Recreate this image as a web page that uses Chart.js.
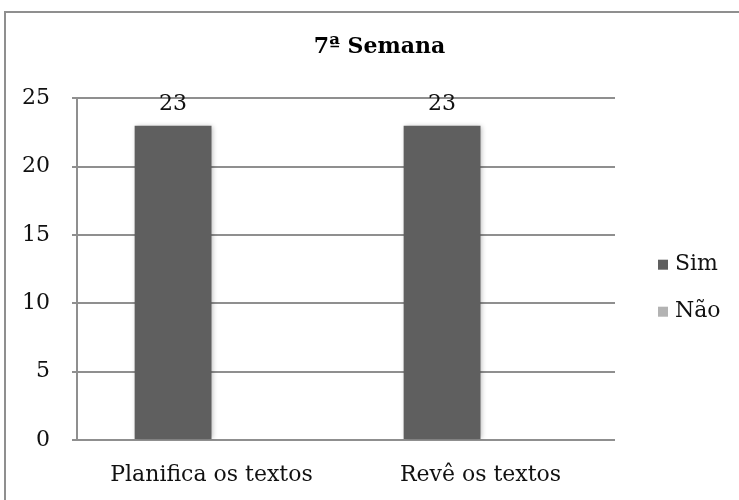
<!DOCTYPE html>
<html lang="pt">
<head>
<meta charset="utf-8">
<title>7ª Semana</title>
<script src="https://cdn.jsdelivr.net/npm/chart.js@4.4.1/dist/chart.umd.min.js"></script>
<style>
  html, body { margin: 0; padding: 0; background: #fff; overflow: hidden; }
  #frame {
    position: absolute; left: 4px; top: 11px; width: 780px; height: 540px;
    border: 2px solid #8f8f8f; box-sizing: border-box;
  }
  #wrap { position: absolute; left: 0; top: 0; width: 739px; height: 500px; }
</style>
</head>
<body>
<div id="frame"></div>
<div id="wrap"><canvas id="semanaChart"></canvas></div>
<script>
// chart data
const categories = ['Planifica os textos', 'Revê os textos'];
const simValues = [23, 23];
const naoValues = [0, 0];
const seriesNames = ['Sim', 'Não'];
const yMax = 25;
const yStep = 5;

const GRID = '#8f8f8f';
const SIM_COLOR = '#5f5f5f';
const NAO_COLOR = '#b3b3b3';
const FONT = "'DejaVu Serif', serif";

Chart.defaults.font.family = FONT;
Chart.defaults.font.size = 22;
Chart.defaults.color = '#111';

/* ---------- soft shadow behind the bars ---------- */
const barShadow = {
  id: 'barShadow',
  beforeDatasetsDraw(chart) {
    const ctx = chart.ctx;
    ctx.save();
    ctx.shadowColor = 'rgba(0,0,0,0.28)';
    ctx.shadowBlur = 5;
    ctx.shadowOffsetX = 1;
    ctx.shadowOffsetY = 0;
  },
  afterDatasetsDraw(chart) {
    chart.ctx.restore();
  },
};

/* ---------- value labels above the "Sim" bars ---------- */
const valueLabels = {
  id: 'valueLabels',
  afterDatasetsDraw(chart) {
    const ctx = chart.ctx;
    const meta = chart.getDatasetMeta(0);
    ctx.save();
    ctx.font = '22px ' + FONT;
    ctx.fillStyle = '#111';
    ctx.textAlign = 'center';
    ctx.textBaseline = 'alphabetic';
    meta.data.forEach((bar, i) => {
      ctx.fillText(String(chart.data.datasets[0].data[i]), bar.x, bar.y - 16);
    });
    ctx.restore();
  },
};

/* ---------- legend on the right, square markers ---------- */
const sideLegend = {
  id: 'sideLegend',
  afterDraw(chart) {
    const { ctx, chartArea } = chart;
    const mid = (chartArea.top + chartArea.bottom) / 2 + 19;
    const rowGap = 47;
    const x = chartArea.right + 43;
    const sets = chart.data.datasets;
    ctx.save();
    ctx.font = '22px ' + FONT;
    ctx.textBaseline = 'middle';
    ctx.textAlign = 'left';
    sets.forEach((ds, i) => {
      const y = mid + (i - (sets.length - 1) / 2) * rowGap;
      ctx.fillStyle = ds.backgroundColor;
      ctx.fillRect(x, y - 5, 10, 10);
      ctx.fillStyle = '#111';
      ctx.fillText(ds.label, x + 17, y);
    });
    ctx.restore();
  },
};

new Chart(document.getElementById('semanaChart').getContext('2d'), {
  type: 'bar',
  data: {
    labels: categories,
    datasets: [
      { label: seriesNames[0], data: simValues, backgroundColor: SIM_COLOR },
      { label: seriesNames[1], data: naoValues, backgroundColor: NAO_COLOR },
    ],
  },
  options: {
    responsive: true, maintainAspectRatio: false, animation: false,
    categoryPercentage: 2 / 3.5, barPercentage: 1,
    layout: { padding: { top: 24, left: 20, right: 0, bottom: 0 } },
    plugins: {
      legend: { display: false },
      tooltip: { enabled: false },
      title: {
        display: true, text: '7ª Semana', color: '#000',
        font: { size: 22, weight: 'bold' },
        padding: { top: 10, bottom: 38 },
      },
    },
    scales: {
      x: {
        grid: { display: false, drawTicks: false },
        border: { display: false },
        ticks: { padding: 22, color: '#111', maxRotation: 0 },
        afterFit: (s) => { s.height = 60; },
      },
      y: {
        min: 0, max: yMax,
        ticks: { stepSize: yStep, padding: 22, color: '#111' },
        grid: { color: GRID, lineWidth: 2, tickLength: 5 },
        border: { color: GRID, width: 2 },
        afterFit: (s) => { s.width = 57; },
      },
      // empty column that keeps room for the legend
      legendSpace: {
        type: 'linear', position: 'right', display: true,
        grid: { display: false, drawTicks: false },
        border: { display: false },
        ticks: { display: false },
        afterFit: (s) => { s.width = 124; },
      },
    },
  },
  plugins: [barShadow, valueLabels, sideLegend],
});
</script>
</body>
</html>
